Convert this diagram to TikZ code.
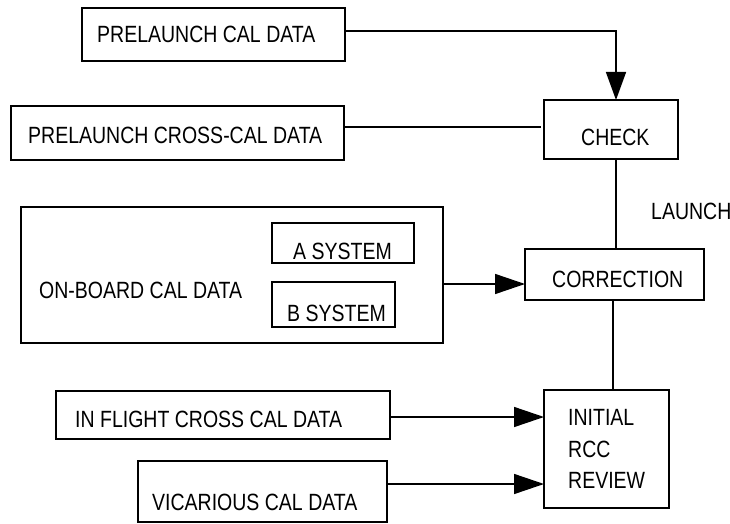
\documentclass[tikz,border=0pt]{standalone}
\usepackage{fontspec}
\setmainfont{Liberation Sans}[FakeStretch=0.83]
\usetikzlibrary{arrows.meta}
\begin{document}
\begin{tikzpicture}[x=1pt,y=-1pt,
  box/.style={draw,line width=1.5pt,inner sep=0pt,outer sep=0pt,rectangle},
  txt/.style={anchor=base west,inner sep=0pt,font=\fontsize{23.5}{31}\selectfont},
  conn/.style={line width=1.5pt},
  arr/.style={line width=1.5pt,-{Triangle[length=28pt,width=20pt]}},
  harr/.style={line width=1.5pt,-{Triangle[length=30pt,width=20pt]}}]
\useasboundingbox (0,0) rectangle (730,524);
% boxes
\node[box,minimum width=263pt,minimum height=53pt] (pcal) at (213.5,34.5) {};
\node[box,minimum width=333pt,minimum height=54pt] (pcross) at (177.5,133) {};
\node[box,minimum width=134pt,minimum height=59pt] (check) at (611,129.5) {};
\node[box,minimum width=179pt,minimum height=51pt] (correction) at (614.5,274.5) {};
\node[box,minimum width=422pt,minimum height=136pt] (onboard) at (232,275) {};
\node[box,minimum width=142pt,minimum height=40pt] (asys) at (343,243) {};
\node[box,minimum width=123pt,minimum height=45pt] (bsys) at (333.5,304.5) {};
\node[box,minimum width=334pt,minimum height=48pt] (inflight) at (223,415) {};
\node[box,minimum width=249pt,minimum height=61pt] (vicarious) at (262.5,491.5) {};
\node[box,minimum width=125pt,minimum height=118pt] (review) at (606.5,449) {};
% texts
\node[txt] (tpcal) at (97,43) {PRELAUNCH CAL DATA};
\node[txt] (tpcross) at (28,143) {PRELAUNCH CROSS-CAL DATA};
\node[txt] (tcheck) at (581,146) {CHECK};
\node[txt] (tcorr) at (552,287) {CORRECTION};
\node[txt] (tlaunch) at (651,219) {LAUNCH};
\node[txt] (tonboard) at (39,298) {ON-BOARD CAL DATA};
\node[txt] (tasys) at (293,259) {A SYSTEM};
\node[txt] (tbsys) at (287,321) {B SYSTEM};
\node[txt] (tinflight) at (75,427) {IN FLIGHT CROSS CAL DATA};
\node[txt] (tvic) at (152,510) {VICARIOUS CAL DATA};
\node[txt] (tr1) at (568,425) {INITIAL};
\node[txt] (tr2) at (568,457) {RCC};
\node[txt] (tr3) at (568,488) {REVIEW};
% connector helper points
\coordinate (c1) at (616,31);
\coordinate (c2) at (541,127);
\coordinate (c3) at (613,284);
\coordinate (c4) at (613,417);
\coordinate (c5) at (613,484);
% connectors
\draw[arr] (pcal.east |- c1) -- (c1) -- (c1 |- check.north);
\draw[conn] (pcross.east |- c2) -- (c2);
\draw[conn] (check.south -| c1) -- (correction.north -| c1);
\draw[harr] (onboard.east |- c3) -- (correction.west |- c3);
\draw[conn] (correction.south -| c3) -- (review.north -| c3);
\draw[harr] (inflight.east |- c4) -- (review.west |- c4);
\draw[harr] (vicarious.east |- c5) -- (review.west |- c5);
\end{tikzpicture}
\end{document}
